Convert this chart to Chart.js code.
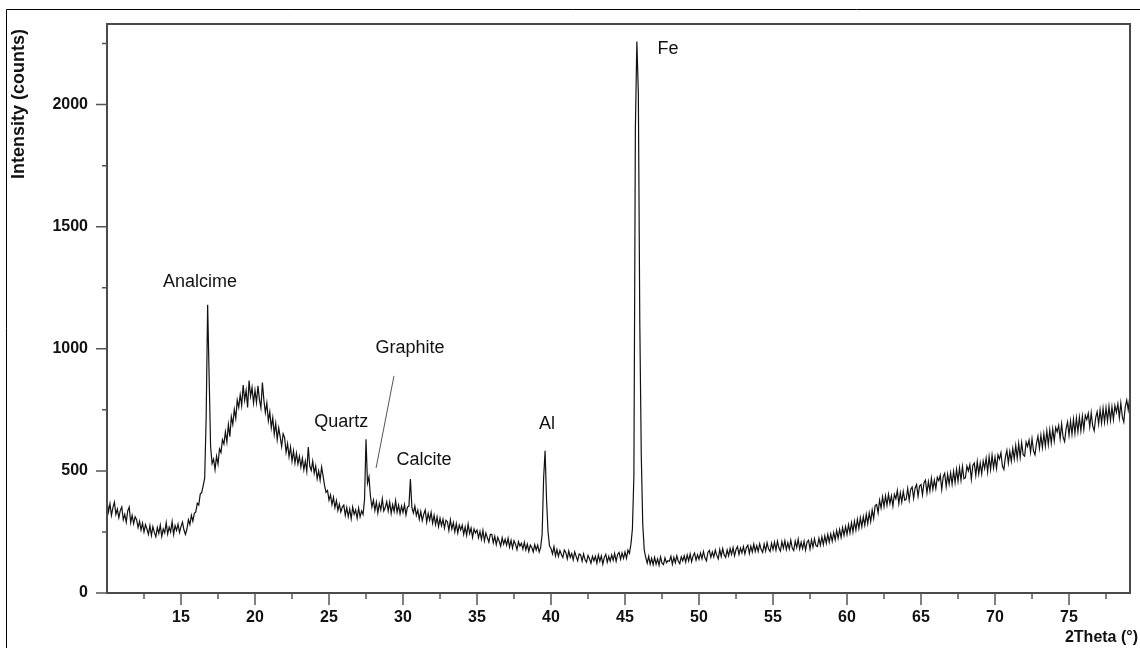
<!DOCTYPE html>
<html>
<head>
<meta charset="utf-8">
<script src="https://cdn.jsdelivr.net/npm/chart.js@4.4.0/dist/chart.umd.min.js"></script>
<style>
  html, body { margin: 0; padding: 0; background: #fff; }
  #wrap { width: 1140px; height: 648px; }
</style>
</head>
<body>
<div id="wrap"><canvas id="xrd" width="1140" height="648"></canvas></div>
<script>
// ── Scan data (0.1° steps from 10.0° to 79.1°) ──
const scanStart = 10.0;
const scanStep = 0.1;
const counts = [
  378, 332, 366, 318, 350, 372, 322, 344, 308, 338,   // 10
  352, 300, 322, 290, 336, 352, 288, 318, 284, 312,   // 11
  300, 268, 294, 258, 286, 250, 280, 262, 240, 276,   // 12
  236, 272, 248, 230, 268, 244, 278, 232, 262, 246,   // 13
  288, 242, 270, 250, 292, 240, 276, 256, 282, 248,   // 14
  272, 290, 258, 240, 262, 300, 280, 318, 294, 326,   // 15
  332, 368, 360, 405, 412, 440, 470, 720, 1180, 890,  // 16
  600, 530, 548, 505, 560, 528, 590, 575, 628, 610,   // 17
  660, 618, 690, 640, 722, 690, 752, 715, 790, 760,   // 18
  812, 768, 852, 790, 830, 760, 870, 805, 842, 778,   // 19
  830, 780, 848, 792, 758, 862, 790, 738, 778, 705,   // 20
  742, 676, 718, 650, 695, 628, 676, 640, 600, 652,   // 21
  636, 576, 612, 558, 598, 540, 582, 532, 572, 528,   // 22
  560, 516, 552, 505, 540, 498, 598, 520, 502, 540,   // 23
  490, 520, 468, 500, 462, 516, 480, 440, 412, 420,   // 24
  380, 402, 362, 392, 350, 378, 338, 364, 332, 352,   // 25
  360, 318, 350, 312, 344, 304, 352, 322, 340, 306,   // 26
  348, 312, 336, 322, 382, 630, 450, 476, 396, 352,   // 27
  380, 338, 372, 328, 366, 340, 386, 336, 350, 374,   // 28
  336, 372, 326, 362, 334, 378, 330, 360, 324, 356,   // 29
  330, 362, 320, 352, 356, 467, 350, 328, 356, 318,   // 30
  340, 302, 334, 296, 322, 340, 290, 326, 298, 330,   // 31
  286, 318, 280, 312, 272, 306, 276, 302, 266, 298,   // 32
  292, 256, 300, 262, 288, 250, 284, 246, 278, 258,   // 33
  278, 240, 270, 236, 282, 244, 266, 228, 262, 246,   // 34
  258, 226, 252, 220, 256, 214, 246, 226, 208, 240,   // 35
  240, 206, 232, 198, 228, 212, 192, 226, 200, 220,   // 36
  196, 224, 188, 216, 184, 214, 200, 178, 210, 192,   // 37
  204, 180, 208, 176, 200, 170, 196, 186, 168, 198,   // 38
  176, 196, 168, 186, 240, 470, 582, 380, 250, 192,   // 39
  182, 160, 190, 152, 178, 150, 174, 158, 146, 176,   // 40
  166, 140, 172, 146, 162, 136, 168, 150, 132, 160,   // 41
  156, 130, 160, 136, 126, 154, 140, 122, 150, 132,   // 42
  150, 122, 156, 130, 152, 118, 146, 158, 126, 150,   // 43
  130, 156, 134, 162, 130, 158, 166, 138, 164, 142,   // 44
  168, 142, 176, 162, 200, 262, 480, 1900, 2258, 2050, // 45
  1100, 560, 280, 176, 146, 122, 150, 118, 142, 116,  // 46
  146, 118, 140, 114, 148, 122, 116, 144, 124, 132,   // 47
  130, 150, 118, 146, 124, 152, 130, 120, 148, 132,   // 48
  152, 126, 156, 132, 160, 128, 152, 164, 134, 156,   // 49
  138, 164, 140, 170, 144, 132, 166, 174, 146, 168,   // 50
  148, 176, 154, 140, 178, 150, 182, 156, 146, 176,   // 51
  152, 182, 158, 186, 152, 178, 190, 158, 184, 164,   // 52
  190, 160, 186, 196, 162, 192, 168, 200, 170, 194,   // 53
  170, 202, 178, 166, 200, 172, 206, 180, 170, 204,   // 54
  178, 208, 176, 212, 184, 172, 210, 184, 214, 178,   // 55
  206, 180, 216, 184, 174, 212, 186, 220, 180, 208,   // 56
  182, 212, 176, 208, 216, 180, 218, 188, 222, 194,   // 57
  190, 224, 196, 230, 198, 234, 204, 240, 208, 242,   // 58
  212, 248, 218, 256, 224, 260, 228, 268, 236, 272,   // 59
  240, 280, 246, 288, 250, 294, 258, 302, 264, 308,   // 60
  272, 312, 278, 322, 284, 328, 292, 340, 306, 358,   // 61
  362, 328, 380, 348, 394, 354, 398, 360, 404, 366,   // 62
  398, 356, 404, 386, 420, 366, 410, 372, 416, 380,   // 63
  384, 428, 380, 424, 434, 388, 430, 444, 396, 438,   // 64
  444, 402, 452, 462, 410, 456, 418, 470, 424, 462,   // 65
  428, 474, 460, 482, 424, 476, 490, 436, 486, 446,   // 66
  492, 446, 498, 452, 506, 458, 512, 462, 518, 468,   // 67
  472, 520, 500, 526, 466, 522, 532, 482, 538, 488,   // 68
  532, 488, 540, 510, 552, 496, 558, 506, 564, 512,   // 69
  556, 510, 566, 548, 574, 520, 506, 556, 584, 532,   // 70
  580, 540, 592, 548, 604, 552, 612, 556, 616, 566,   // 71
  560, 618, 600, 626, 576, 632, 582, 566, 612, 642,   // 72
  592, 646, 596, 652, 602, 664, 608, 668, 614, 672,   // 73
  622, 678, 660, 686, 632, 692, 638, 620, 672, 700,   // 74
  646, 704, 650, 712, 654, 716, 660, 720, 664, 724,   // 75
  670, 728, 710, 736, 680, 738, 684, 664, 718, 742,   // 76
  692, 750, 696, 756, 700, 758, 704, 764, 707, 762,   // 77
  710, 768, 740, 774, 718, 778, 722, 700, 762, 790,   // 78
  750, 800                                            // 79
];

// ── Axis ticks ──
const xMajorTicks = [15, 20, 25, 30, 35, 40, 45, 50, 55, 60, 65, 70, 75];
const xMinorTicks = [12.5, 17.5, 22.5, 27.5, 32.5, 37.5, 42.5, 47.5, 52.5, 57.5, 62.5, 67.5, 72.5, 77.5];
const yMajorTicks = [0, 500, 1000, 1500, 2000];
const yMinorTicks = [250, 750, 1250, 1750, 2250];

// ── Phase labels (data coords) ──
const phaseNames = ['Analcime', 'Quartz', 'Graphite', 'Calcite', 'Al', 'Fe'];
const phaseX = [16.28, 25.83, 30.47, 31.42, 39.73, 47.9];
const phaseY = [1273, 701, 1002, 545, 692, 2228];
// leader line for Graphite
const leaderFrom = [29.39, 889];
const leaderTo = [28.18, 512];

const points = counts.map((c, i) => ({
  x: Math.round((scanStart + i * scanStep) * 100) / 100,
  y: c
}));

const FONT = '"Liberation Sans", Arial, Helvetica, sans-serif';

// ── Frame, ticks, labels ──
const xrdDecor = {
  id: 'xrdDecor',
  afterDraw(chart) {
    const { ctx, chartArea: a, scales: { x, y } } = chart;
    ctx.save();

    // outer picture border (top + left only)
    ctx.strokeStyle = '#000';
    ctx.lineWidth = 1;
    ctx.beginPath();
    ctx.moveTo(6.5, 648); ctx.lineTo(6.5, 9.5); ctx.lineTo(1140, 9.5);
    ctx.stroke();

    // plot box
    ctx.strokeStyle = '#4a4a4a';
    ctx.lineWidth = 2;
    ctx.strokeRect(a.left, a.top, a.right - a.left, a.bottom - a.top);

    // ticks
    ctx.strokeStyle = '#555';
    ctx.lineWidth = 1.5;
    ctx.beginPath();
    xMajorTicks.forEach(v => { const p = x.getPixelForValue(v); ctx.moveTo(p, a.bottom); ctx.lineTo(p, a.bottom + 12); });
    xMinorTicks.forEach(v => { const p = x.getPixelForValue(v); ctx.moveTo(p, a.bottom); ctx.lineTo(p, a.bottom + 6); });
    yMajorTicks.forEach(v => { const p = y.getPixelForValue(v); ctx.moveTo(a.left, p); ctx.lineTo(a.left - 11, p); });
    yMinorTicks.forEach(v => { const p = y.getPixelForValue(v); ctx.moveTo(a.left, p); ctx.lineTo(a.left - 5, p); });
    ctx.stroke();

    // tick labels
    ctx.fillStyle = '#111';
    ctx.font = 'bold 16px ' + FONT;
    ctx.textAlign = 'center';
    ctx.textBaseline = 'middle';
    xMajorTicks.forEach(v => ctx.fillText(String(v), x.getPixelForValue(v), a.bottom + 25));
    ctx.textAlign = 'right';
    yMajorTicks.forEach(v => ctx.fillText(String(v), a.left - 19, y.getPixelForValue(v)));

    // axis titles
    ctx.font = 'bold 16px ' + FONT;
    ctx.textAlign = 'right';
    ctx.fillText('2Theta (°)', 1138, 638);
    ctx.save();
    ctx.translate(19, 104);
    ctx.rotate(-Math.PI / 2);
    ctx.textAlign = 'center';
    ctx.font = 'bold 18px ' + FONT;
    ctx.fillText('Intensity (counts)', 0, 0);
    ctx.restore();

    // phase labels
    ctx.font = '18px ' + FONT;
    ctx.textAlign = 'center';
    phaseNames.forEach((n, i) => ctx.fillText(n, x.getPixelForValue(phaseX[i]), y.getPixelForValue(phaseY[i])));
    ctx.strokeStyle = '#555';
    ctx.lineWidth = 1;
    ctx.beginPath();
    ctx.moveTo(x.getPixelForValue(leaderFrom[0]), y.getPixelForValue(leaderFrom[1]));
    ctx.lineTo(x.getPixelForValue(leaderTo[0]), y.getPixelForValue(leaderTo[1]));
    ctx.stroke();

    ctx.restore();
  }
};

new Chart(document.getElementById('xrd'), {
  type: 'line',
  data: {
    datasets: [{
      data: points,
      borderColor: '#111',
      borderWidth: 1.2,
      pointRadius: 0,
      tension: 0,
      fill: false
    }]
  },
  options: {
    responsive: false,
    animation: false,
    events: [],
    layout: { padding: { left: 107, top: 24, right: 10, bottom: 55 } },
    plugins: { legend: { display: false }, tooltip: { enabled: false } },
    scales: {
      x: { type: 'linear', min: 10, max: 79.12, display: false },
      y: { type: 'linear', min: 0, max: 2330, display: false }
    }
  },
  plugins: [xrdDecor]
});
</script>
</body>
</html>
